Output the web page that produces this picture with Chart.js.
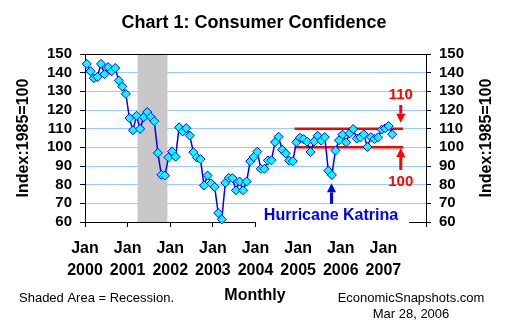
<!DOCTYPE html>
<html>
<head>
<meta charset="utf-8">
<script src="https://cdn.jsdelivr.net/npm/chart.js@4.4.1/dist/chart.umd.min.js"></script>
<style>
  html, body { margin: 0; padding: 0; background: #fff; }
  #wrap { width: 510px; height: 335px; }
</style>
</head>
<body>
<div id="wrap"><canvas id="chart" width="510" height="335"></canvas></div>
<script>
// Consumer confidence index, monthly, Jan 2000 - Mar 2007
const conf2000 = [144.7, 140.8, 137.1, 137.7, 144.7, 139.2, 143.0, 140.8, 142.5, 135.8, 132.6, 128.6];
const conf2001 = [115.7, 109.2, 116.9, 109.9, 116.1, 118.9, 116.3, 114.0, 97.0, 85.3, 84.9, 94.6];
const conf2002 = [97.8, 95.0, 110.7, 108.5, 110.3, 106.3, 97.4, 94.5, 93.7, 79.6, 84.9, 80.7];
const conf2003 = [78.8, 64.8, 61.4, 81.0, 83.6, 83.5, 77.0, 81.7, 77.0, 81.7, 92.5, 94.8];
const conf2004 = [97.7, 88.5, 88.5, 93.0, 93.1, 102.8, 105.7, 98.7, 96.7, 92.9, 92.6, 102.7];
const conf2005 = [105.1, 104.4, 103.0, 97.5, 103.1, 106.2, 103.6, 105.5, 87.5, 85.2, 98.3, 103.8];
const conf2006 = [106.8, 102.7, 107.5, 109.8, 104.7, 105.4, 107.0, 100.2, 105.5, 104.5, 105.4, 109.5];
const conf2007 = [110.2, 111.4, 107.0];

const yearLabels = ['2000', '2001', '2002', '2003', '2004', '2005', '2006', '2007'];
const yTicks = [60, 70, 80, 90, 100, 110, 120, 130, 140, 150];

// recession Mar-Nov 2001, in months since Jan 2000
const recession = [14.8, 23.2];
// reference band 100-110 and its span in months
const bandLevels = [110, 100];
const bandSpan = [59, 89.5];

const FONT = 'Arial, "Liberation Sans", sans-serif';

const series = [].concat(conf2000, conf2001, conf2002, conf2003, conf2004, conf2005, conf2006, conf2007);
const points = series.map((v, i) => ({ x: i + 0.5, y: v }));

function arrow(ctx, cx, yTail, yTip, color) {
    const dir = yTip > yTail ? 1 : -1;
    const headLen = 9, headHalf = 4.5, shaft = 3;
    const yBase = yTip - dir * headLen;
    ctx.fillStyle = color;
    ctx.fillRect(cx - shaft / 2, Math.min(yTail, yBase), shaft, Math.abs(yBase - yTail));
    ctx.beginPath();
    ctx.moveTo(cx - headHalf, yBase);
    ctx.lineTo(cx + headHalf, yBase);
    ctx.lineTo(cx, yTip);
    ctx.closePath();
    ctx.fill();
}

const extras = {
    id: 'extras',
    beforeDatasetsDraw(chart) {
        const { ctx, chartArea: a, scales: { x } } = chart;
        const x0 = x.getPixelForValue(recession[0]);
        const x1 = x.getPixelForValue(recession[1]);
        ctx.save();
        ctx.fillStyle = '#C8C8C8';
        ctx.fillRect(x0, a.top, x1 - x0, a.bottom - a.top);
        ctx.restore();
    },
    afterDraw(chart) {
        const { ctx, chartArea: a, scales: { x, y } } = chart;
        ctx.save();

        // top border
        ctx.strokeStyle = '#000';
        ctx.lineWidth = 1;
        ctx.beginPath();
        ctx.moveTo(a.left, a.top + 0.5);
        ctx.lineTo(a.right, a.top + 0.5);
        ctx.stroke();

        ctx.textAlign = 'center';
        ctx.textBaseline = 'middle';

        // title
        ctx.fillStyle = '#000';
        ctx.font = 'bold 18px ' + FONT;
        ctx.fillText('Chart 1: Consumer Confidence', 254, 23);

        // axis titles (both read bottom to top)
        ctx.font = 'bold 16px ' + FONT;
        [24, 487].forEach(cx => {
            ctx.save();
            ctx.translate(cx, 138);
            ctx.rotate(-Math.PI / 2);
            ctx.fillText('Index:1985=100', 0, 0);
            ctx.restore();
        });

        ctx.fillText('Monthly', 255, 296);

        ctx.font = '13px ' + FONT;
        ctx.textAlign = 'left';
        ctx.fillText('Shaded Area = Recession.', 19, 298);
        ctx.textAlign = 'center';
        ctx.fillText('EconomicSnapshots.com', 411, 298);
        ctx.fillText('Mar 28, 2006', 411, 314);

        // band annotations
        const ax = x.getPixelForValue(88.9);
        ctx.fillStyle = '#FF0000';
        ctx.font = 'bold 15px ' + FONT;
        ctx.fillText('110', ax, 95);
        ctx.fillText('100', ax, 182);
        arrow(ctx, ax, y.getPixelForValue(122.7), y.getPixelForValue(113.2), '#FF0000');
        arrow(ctx, ax, y.getPixelForValue(87.9), y.getPixelForValue(99.6), '#FF0000');

        // Katrina
        const kx = x.getPixelForValue(69.4);
        arrow(ctx, kx, y.getPixelForValue(69.7), y.getPixelForValue(80.7), '#0000FF');
        ctx.fillStyle = '#fff';
        ctx.fillRect(256, 207, 153, 21);
        ctx.fillStyle = '#0000FF';
        ctx.font = 'bold 16px ' + FONT;
        ctx.fillText('Hurricane Katrina', 331, 216);

        ctx.restore();
    }
};

const yGrid = {
    color: c => (c.tick && (c.tick.value === 150 || c.tick.value === 60)) ? 'rgba(0,0,0,0)' : '#99CCFF',
    tickColor: '#000',
    tickLength: 5,
    lineWidth: 1
};
const yTickOpts = {
    color: '#000',
    padding: 8,
    autoSkip: false,
    font: { family: FONT, size: 15, weight: 'bold' }
};

new Chart(document.getElementById('chart'), {
    type: 'line',
    data: {
        datasets: [{
            data: points,
            borderColor: '#0000FF',
            borderWidth: 1.5,
            pointStyle: 'rectRot',
            pointRadius: 4.5,
            pointBackgroundColor: '#00FFFF',
            pointBorderColor: '#0000FF',
            pointBorderWidth: 1,
            tension: 0,
            clip: false,
            order: 1
        }].concat(bandLevels.map(v => ({
            data: [{ x: bandSpan[0], y: v }, { x: bandSpan[1], y: v }],
            borderColor: '#FF0000',
            borderWidth: 2.5,
            pointRadius: 0,
            order: 2
        })))
    },
    options: {
        responsive: false,
        animation: false,
        devicePixelRatio: 1,
        layout: { padding: { top: 54, left: 0, right: 0, bottom: 0 } },
        plugins: { legend: { display: false }, tooltip: { enabled: false } },
        scales: {
            x: {
                type: 'linear', min: 0, max: 96,
                afterFit: s => { s.height = 113; },
                afterBuildTicks: s => { s.ticks = [0, 12, 24, 36, 48, 60, 72, 84, 96].map(v => ({ value: v })); },
                ticks: {
                    autoSkip: false, maxRotation: 0, color: '#000', padding: 11,
                    font: { family: FONT, size: 16, weight: 'bold', lineHeight: 1.375 },
                    callback: v => v < 96 ? ['Jan', yearLabels[v / 12]] : ''
                },
                grid: { drawOnChartArea: false, tickLength: 5, color: '#000', tickColor: '#000' },
                border: { color: '#000' }
            },
            y: {
                position: 'left', min: 60, max: 150,
                afterFit: s => { s.width = 85; },
                afterBuildTicks: s => { s.ticks = yTicks.map(v => ({ value: v })); },
                ticks: yTickOpts,
                grid: yGrid,
                border: { color: '#000' }
            },
            y2: {
                position: 'right', min: 60, max: 150,
                afterFit: s => { s.width = 84; },
                afterBuildTicks: s => { s.ticks = yTicks.map(v => ({ value: v })); },
                ticks: yTickOpts,
                grid: { drawOnChartArea: false, tickColor: '#000', tickLength: 5 },
                border: { color: '#000' }
            }
        }
    },
    plugins: [extras]
});
</script>
</body>
</html>
